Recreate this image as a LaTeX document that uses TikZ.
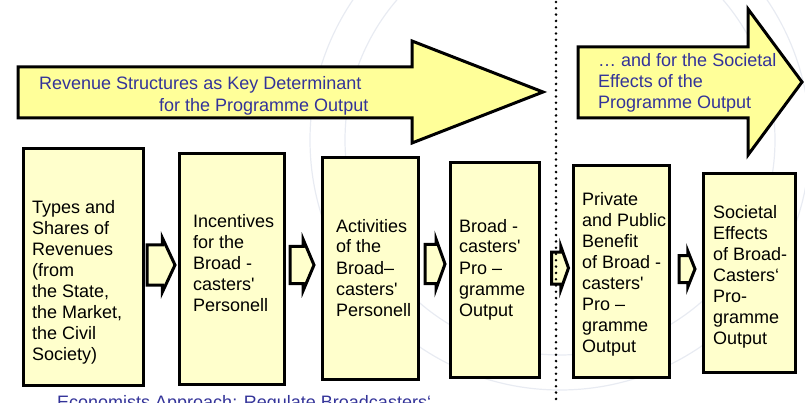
\documentclass[tikz,border=0pt]{standalone}
\usepackage{fontspec}
\setmainfont{Liberation Sans}
\usetikzlibrary{calc}

\definecolor{arrowfill}{RGB}{255,255,153}
\definecolor{boxfill}{RGB}{255,255,204}
\definecolor{captionblue}{RGB}{51,51,153}
\definecolor{sealgray}{RGB}{232,235,242}

\tikzset{
  bigarrow/.style={draw=black, line width=3pt, fill=arrowfill, line join=miter},
  stagebox/.style={draw=black, line width=3pt, fill=boxfill, rectangle, inner sep=0pt},
  % multi-line texts sit on the baseline of their last line
  stagetext/.style={anchor=base west, align=left, inner sep=0pt,
    font=\fontsize{18}{21}\selectfont},
  headline/.style={anchor=base west, align=left, inner sep=0pt, text=captionblue,
    font=\fontsize{18}{21}\selectfont},
  linkarrow/.style={draw=black, line width=3pt, fill=boxfill, line join=miter},
  divider/.style={line width=2.8pt, line cap=round, dash pattern=on 0pt off 6.3pt},
  seal/.style={draw=sealgray, line width=1.2pt},
}

% block arrow between two stages:
% #1 from, #2 to, #3 x offset, #4 tip y, #5 half length, #6 half shaft, #7 half head
\newcommand\stagelink[7]{%
  \coordinate (lm) at ($(#1.east)!0.5!(#2.west)$);
  \begin{scope}[shift={(lm |- 0,#4)}, xshift=#3]
    \draw[linkarrow] (-#5,-#6) -- (0.1*#5,-#6) -- (0.1*#5,-#7) -- (#5,0)
      -- (0.1*#5,#7) -- (0.1*#5,#6) -- (-#5,#6) -- cycle;
  \end{scope}}

\begin{document}
\begin{tikzpicture}[x=1pt, y=-1pt]
\useasboundingbox (0,0) rectangle (805,403);
\clip (0,0) rectangle (805,403);

% faint seal in the background
\draw[seal] (560,140) circle (250);
\draw[seal] (560,140) circle (215);

% headline arrows
\draw[bigarrow] (18,67) -- (412,67) -- (412,41) -- (543,92) -- (412,143)
  -- (412,118) -- (18,118) -- cycle;
\node[headline] (h1) at (39,90) {Revenue Structures as Key Determinant};
\node[headline] (h2) at (159,112) {for the Programme Output};

\draw[bigarrow] (578,47) -- (748,47) -- (748,9) -- (802,82) -- (748,155)
  -- (748,118) -- (578,118) -- cycle;
\node[headline] (h3) at (598,109) {\dots{} and for the Societal\\Effects of the\\Programme Output};

% stages
\node[stagebox, minimum width=120pt, minimum height=236pt] (b1) at (83,267) {};
\node[stagebox, minimum width=105pt, minimum height=230pt] (b2) at (231.5,269) {};
\node[stagebox, minimum width=96pt, minimum height=221pt] (b3) at (370,268.5) {};
\node[stagebox, minimum width=89pt, minimum height=214pt] (b4) at (494.5,270) {};
\node[stagebox, minimum width=96pt, minimum height=211pt] (b5) at (621,271.5) {};
\node[stagebox, minimum width=92pt, minimum height=198pt] (b6) at (749,273) {};

\node[stagetext] (t1) at (32,360) {Types and\\Shares of\\Revenues\\(from\\the State,\\the Market,\\the Civil\\Society)};
\node[stagetext] (t2) at (193,311) {Incentives\\for the\\Broad -\\casters\textquotesingle\\Personell};
\node[stagetext] (t3) at (336,316) {Activities\\of the\\Broad--\\casters\textquotesingle\\Personell};
\node[stagetext] (t4) at (459,316) {Broad -\\casters\textquotesingle\\Pro --\\gramme\\Output};
\node[stagetext] (t5) at (582,352) {Private\\and Public\\Benefit\\of Broad -\\casters\textquotesingle\\Pro --\\gramme\\Output};
\node[stagetext] (t6) at (713,344) {Societal\\Effects\\of Broad-\\Casters‘\\Pro-\\gramme\\Output};

% links between stages
\stagelink{b1}{b2}{0}{265}{14}{20}{27}
\stagelink{b2}{b3}{-1}{265}{12}{18.5}{25.5}
\stagelink{b3}{b4}{1}{264}{10}{19.5}{25}
\stagelink{b4}{b5}{4}{268}{8.5}{16}{21.5}
\stagelink{b5}{b6}{1}{269}{8}{13.5}{18}

% dotted divider
\draw[divider] (556,2) -- (556,403);

% footer line, cut by the frame
\node[headline] (f1) at (57,408) {Economists Approach: Regulate Broadcasters‘};
\end{tikzpicture}
\end{document}
